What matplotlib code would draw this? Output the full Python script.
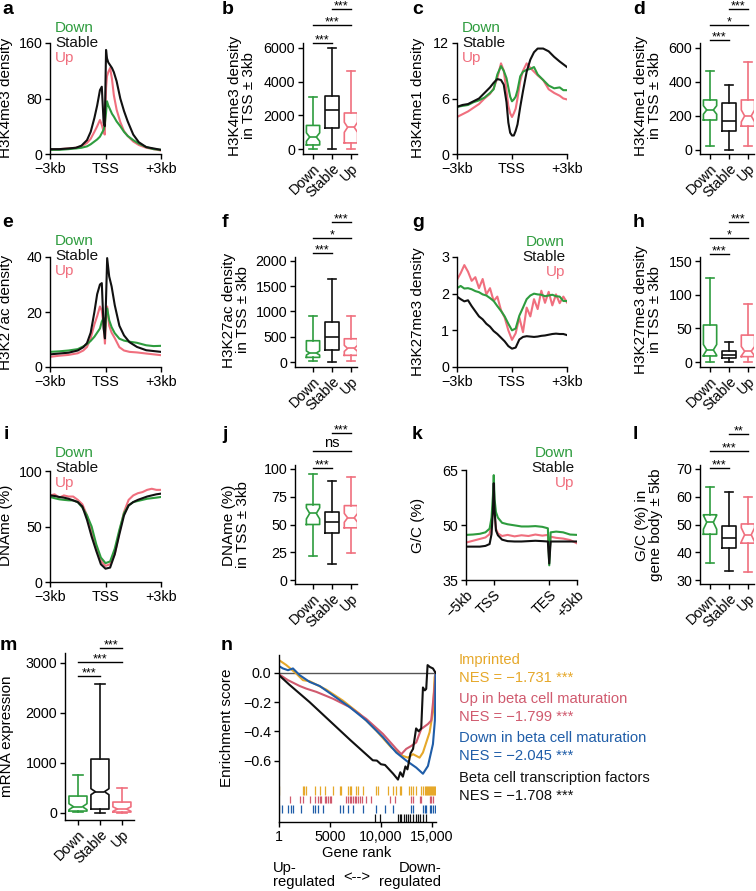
import matplotlib
matplotlib.use('Agg')
import matplotlib.pyplot as plt

plt.rcParams['font.family'] = ['Liberation Sans', 'DejaVu Sans']
plt.rcParams['font.size'] = 10.3
plt.rcParams['axes.linewidth'] = 1.0

GREEN = '#2e9c3e'
PINK = '#f06f7e'
BLACK = '#111111'
COLS = [GREEN, BLACK, PINK]
groups = ['Down', 'Stable', 'Up']

# ---- profile data (kb from TSS) ----
a_x = [-3.0, -2.5, -2.0, -1.6, -1.3, -1.0, -0.8, -0.6, -0.45, -0.3, -0.2, -0.1, -0.04, 0.03,
       0.08, 0.15, 0.25, 0.35, 0.45, 0.6, 0.8, 1.0, 1.2, 1.5, 1.8, 2.2, 2.6, 3.0]
a_down = [6, 6, 7, 8, 9, 11, 14, 18, 21, 25, 30, 35, 42, 60, 76, 70, 64, 58, 54, 47, 40, 32, 26, 20, 15, 10, 7, 6]
a_stable = [7, 7, 8, 9, 12, 20, 32, 52, 70, 92, 97, 45, 40, 150, 138, 132, 128, 124, 118, 105, 80, 62, 47, 28, 17, 10, 8, 6]
a_up = [6, 7, 8, 9, 11, 16, 22, 32, 40, 49, 42, 32, 28, 95, 112, 118, 124, 108, 85, 64, 46, 33, 26, 18, 13, 9, 7, 5]

c_x = [-3.0, -2.7, -2.4, -2.1, -1.8, -1.5, -1.2, -1.0, -0.8, -0.6, -0.45, -0.3, -0.2, -0.1, 0.0,
       0.1, 0.2, 0.3, 0.45, 0.6, 0.8, 1.0, 1.2, 1.4, 1.7, 2.0, 2.3, 2.6, 2.8, 3.0]
c_down = [5.1, 5.2, 5.3, 5.6, 5.8, 6.1, 6.6, 7.0, 8.6, 9.5, 9.0, 8.2, 7.2, 6.2, 5.7,
          5.9, 6.2, 6.9, 8.4, 8.9, 9.1, 9.2, 9.4, 8.6, 8.0, 7.4, 7.1, 7.2, 6.9, 6.9]
c_stable = [5.1, 5.3, 5.4, 5.7, 6.0, 6.6, 7.2, 7.7, 8.1, 8.0, 7.5, 5.6, 3.4, 2.3, 2.0,
            2.0, 2.5, 3.2, 5.1, 6.8, 8.9, 10.2, 11.0, 11.4, 11.4, 11.1, 10.5, 10.0, 9.7, 9.4]
c_up = [4.0, 4.3, 4.6, 5.0, 5.4, 6.0, 6.5, 7.1, 8.2, 9.8, 9.0, 6.8, 5.2, 4.4, 4.0,
        4.4, 4.9, 6.0, 7.9, 9.0, 9.8, 9.3, 8.9, 8.5, 8.0, 7.0, 6.6, 6.3, 6.0, 5.9]

e_x = [-3.0, -2.5, -2.0, -1.5, -1.2, -1.0, -0.8, -0.6, -0.45, -0.3, -0.2, -0.1, -0.03, 0.03,
       0.09, 0.2, 0.33, 0.5, 0.75, 1.0, 1.3, 1.7, 2.2, 2.6, 3.0]
e_down = [5.5, 5.7, 6.0, 6.5, 7.5, 8.3, 9.5, 11.0, 12.5, 14.0, 16.5, 17.8, 12.5, 19.0,
          21.3, 17.0, 14.5, 12.3, 10.3, 9.6, 9.2, 8.8, 7.9, 7.6, 7.7]
e_stable = [4.6, 4.9, 5.2, 6.0, 7.2, 8.7, 12.5, 20.0, 26.5, 30.0, 30.5, 14.0, 10.4, 25.0,
            39.6, 32.9, 29.3, 22.5, 15.0, 11.5, 9.0, 7.3, 6.1, 5.8, 5.5]
e_up = [3.7, 4.1, 4.4, 5.0, 6.0, 7.3, 10.5, 15.5, 18.5, 22.0, 20.5, 15.0, 8.5, 18.0,
        22.0, 15.0, 12.5, 10.5, 7.2, 6.0, 5.5, 5.3, 4.9, 4.6, 4.3]

g_x = [-3.0, -2.8, -2.6, -2.4, -2.2, -2.0, -1.8, -1.6, -1.4, -1.2, -1.0, -0.8, -0.6, -0.4, -0.2, 0.0,
       0.2, 0.4, 0.6, 0.8, 1.0, 1.2, 1.4, 1.6, 1.8, 2.0, 2.2, 2.4, 2.6, 2.8, 3.0]
g_down = [2.15, 2.21, 2.14, 2.15, 2.12, 2.07, 2.04, 1.98, 1.95, 1.88, 1.80, 1.66, 1.53, 1.38, 1.18, 1.00,
          1.05, 1.40, 1.62, 1.85, 1.95, 2.00, 1.98, 1.97, 1.93, 1.95, 1.97, 1.93, 1.92, 1.80, 1.80]
g_stable = [1.92, 1.85, 1.79, 1.82, 1.66, 1.52, 1.38, 1.30, 1.18, 1.10, 0.98, 0.90, 0.80, 0.70, 0.57, 0.50,
            0.53, 0.75, 0.82, 0.84, 0.83, 0.82, 0.83, 0.85, 0.86, 0.88, 0.90, 0.91, 0.90, 0.90, 0.87]
g_up = [2.38, 2.56, 2.78, 2.60, 2.35, 2.45, 2.15, 2.40, 1.98, 2.15, 1.80, 1.92, 1.55, 1.35, 1.00, 0.74,
        0.92, 1.35, 0.95, 1.62, 1.38, 1.85, 1.58, 2.08, 1.75, 2.05, 1.68, 1.98, 1.74, 1.92, 1.76]

i_x = [-3.0, -2.75, -2.5, -2.25, -2.0, -1.75, -1.5, -1.25, -1.0, -0.75, -0.5, -0.25, 0.0,
       0.25, 0.5, 0.75, 1.0, 1.25, 1.5, 1.75, 2.0, 2.25, 2.5, 2.75, 3.0]
i_down = [76.6, 75.5, 74.5, 74, 73.6, 73.5, 72, 67, 60, 50, 34, 22, 17,
          18.5, 30, 47, 62, 69, 72, 73, 74, 75, 75.5, 76, 76.6]
i_stable = [78, 77.5, 76.6, 76, 75, 73.5, 72, 68, 56, 41, 28, 16, 12,
            13, 25, 43, 60, 69, 72, 74, 75.5, 77, 78, 79, 79.6]
i_up = [78, 79, 76, 78, 77, 77, 74, 70, 60, 45, 30, 19, 14.5,
        16, 25, 45, 63, 74, 78, 80, 81, 83, 84, 83, 83]

# k: 0 = -5kb, 1 = TSS, 3 = TES, 4 = +5kb
k_x = [0, 0.25, 0.5, 0.7, 0.85, 0.92, 0.97, 1.0, 1.03, 1.08, 1.15, 1.3, 1.5, 1.75, 2.0,
       2.25, 2.5, 2.75, 2.95, 3.0, 3.05, 3.25, 3.5, 3.75, 4.0]
k_down = [47.3, 47.4, 47.6, 48.0, 49.0, 52.0, 58.0, 63.6, 57.0, 53.5, 52.0, 50.6, 50.2, 49.9, 49.6,
          49.6, 49.7, 49.5, 49.1, 39.0, 48.0, 48.2, 48.0, 47.4, 47.3]
k_stable = [44.1, 44.1, 44.1, 44.3, 44.8, 47.5, 54.0, 61.4, 54.0, 48.5, 47.2, 46.0, 45.6, 45.5, 45.5,
            45.6, 45.7, 45.6, 45.5, 39.5, 45.5, 45.5, 45.5, 45.5, 45.5]
k_up = [45.2, 45.7, 46.2, 46.6, 47.5, 50.5, 55.0, 57.7, 53.0, 49.0, 47.7, 47.0, 47.3, 46.9, 47.2,
        47.0, 47.4, 47.1, 47.3, 41.4, 46.8, 46.5, 46.3, 45.9, 45.0]

# ---- box data: [whisker low, q1, median, q3, whisker high]; notch half-width (0 = none) ----
b_down, b_stable, b_up = [20, 240, 710, 1400, 3070], [0, 1230, 2300, 3170, 6000], [0, 360, 1290, 2140, 4650]
b_ci = [250, 0, 300]
d_down, d_stable, d_up = [24, 176, 235, 294, 466], [0, 110, 172, 274, 381], [24, 140, 200, 294, 515]
d_ci = [25, 0, 35]
f_down, f_stable, f_up = [26, 92, 178, 421, 915], [0, 237, 487, 796, 1645], [26, 132, 270, 460, 901]
f_ci = [40, 0, 60]
h_down, h_stable, h_up = [0, 9, 18, 55, 125], [0, 6, 11, 16, 29], [0, 8, 16, 40, 86]
h_ci = [8, 0, 7]
j_down, j_stable, j_up = [22, 50, 60, 68, 95.5], [14.5, 42, 52, 61, 89], [24, 47, 56, 67, 92.5]
j_ci = [5, 0, 4]
l_down, l_stable, l_up = [36, 46.5, 50.8, 53.5, 63.4], [33.2, 41.4, 45.3, 49.5, 61.7], [33, 43.3, 46.3, 50.2, 59.8]
l_ci = [2.5, 0, 2.5]
m_down, m_stable, m_up = [7, 33, 120, 333, 753], [0, 73, 420, 1073, 2570], [0, 13, 73, 213, 500]
m_ci = [60, 60, 45]

# ---- GSEA data ----
n_rank_imp = [1, 720, 1700, 2350, 3000, 4640, 6270, 7900, 9540, 11010, 12150, 12650, 13140, 13790,
              14120, 14770, 15100, 15260, 15360]
n_es_imp = [0.087, 0.053, -0.005, -0.05, -0.057, -0.115, -0.19, -0.28, -0.395, -0.51, -0.568, -0.58,
            -0.556, -0.58, -0.545, -0.407, -0.27, -0.03, 0.0]
n_rank_upm = [1, 880, 2030, 2680, 3660, 5300, 6930, 8560, 10200, 11500, 12000, 12480, 12970, 13460,
              13950, 14610, 14930, 15260, 15360]
n_es_upm = [-0.01, -0.05, -0.09, -0.108, -0.13, -0.177, -0.234, -0.315, -0.418, -0.52, -0.556, -0.52,
            -0.50, -0.476, -0.384, -0.35, -0.326, -0.097, 0.0]
n_rank_dnm = [1, 390, 880, 1370, 2030, 3000, 3990, 5300, 6930, 8560, 10200, 11500, 12480, 13460,
              14120, 14610, 15100, 15290, 15360]
n_es_dnm = [0.046, 0.03, 0.018, 0.03, -0.016, -0.062, -0.09, -0.154, -0.234, -0.326, -0.44, -0.545,
            -0.60, -0.648, -0.69, -0.637, -0.487, -0.326, 0.0]
n_rank_tf = [1, 1000, 3000, 5000, 7000, 9200, 9600, 10000, 10400, 10800, 11200, 11670, 11900, 12150,
             12400, 12600, 12900, 13150, 13450, 13700, 13950, 14120, 14300, 14440, 14575, 14800, 15100, 15360]
n_es_tf = [-0.016, -0.08, -0.2, -0.33, -0.46, -0.598, -0.6, -0.625, -0.63, -0.66, -0.69, -0.73, -0.68,
           -0.71, -0.64, -0.66, -0.55, -0.52, -0.38, -0.40, -0.38, -0.10, -0.12, -0.11, 0.053, 0.04, 0.03, 0.0]
hits_imp = [1, 2350, 2500, 2680, 3500, 4000, 4480, 5300, 5950, 6110, 6770, 6930, 7100, 7580, 7750, 8240,
            9540, 9700, 10690, 11180, 11500, 11830, 11990, 12800, 12970, 13140, 13460, 13950, 14120,
            14280, 14440, 14500, 14610, 14700, 14770, 14930, 15000, 15100, 15200, 15260]
hits_upm = [1050, 2030, 2350, 3000, 3500, 3820, 3990, 4150, 4480, 4640, 4800, 4970, 5130, 6600, 6770,
            6930, 7100, 7250, 7420, 7580, 7750, 7900, 8100, 8560, 9050, 10850, 11340, 12970, 13140,
            13790, 13950, 14770, 14930, 15100]
hits_dnm = [1, 330, 880, 1210, 1370, 2190, 3330, 3500, 3820, 4310, 5950, 6270, 6770, 7250, 8240, 9540,
            10360, 11180, 12970, 13140, 14120, 14280, 14440, 14770, 14930, 15100, 15260]
hits_tf = [9380, 9870, 11670, 11830, 11990, 12220, 12480, 12650, 12880, 13140, 13400, 13630, 13790,
           14120, 14440]
gsea_names = ['Imprinted', 'Up in beta cell maturation', 'Down in beta cell maturation',
              'Beta cell transcription factors']
gsea_nes = ['−1.731', '−1.799', '−2.045', '−1.708']
gsea_cols = ['#e6a82a', '#d05a6e', '#1f5da8', BLACK]

W, H = 756, 891
fig = plt.figure(figsize=(W / 100, H / 100), dpi=100)


def add_ax(x0, y0, x1, y1):
    ax = fig.add_axes([x0 / W, 1 - y1 / H, (x1 - x0) / W, (y1 - y0) / H])
    ax.spines['top'].set_visible(False)
    ax.spines['right'].set_visible(False)
    ax.tick_params(direction='out', length=3.5, width=1, pad=2, labelsize=10.3)
    return ax


def ftext(x, y, s, **kw):
    fig.text(x / W, 1 - y / H, s, **kw)


def ylab(x, y, s):
    ftext(x, y, s, rotation=90, ha='center', va='center', fontsize=11, linespacing=0.95)


def letter(x, y, s):
    ftext(x, y, s, fontsize=14, fontweight='bold', ha='left', va='baseline')


def legend_text(x, y0, ha='left'):
    for k, (s, c) in enumerate(zip(groups, COLS)):
        ftext(x, y0 + 15 * k, s, color=c, ha=ha, va='center', fontsize=11)


def profile(ax, x, series, ylim, yticks, xticks, xlabels, rot=0):
    for idx in [2, 0, 1]:
        ax.plot(x, series[idx], color=COLS[idx], lw=1.5)
    ax.set_xlim(x[0], x[-1])
    ax.set_ylim(ylim)
    ax.set_yticks(yticks)
    ax.set_xticks(xticks)
    if rot:
        ax.set_xticklabels(xlabels, rotation=rot, ha='right', rotation_mode='anchor')
    else:
        ax.set_xticklabels(xlabels)


def boxes(ax, data, ci, ylim, yticks, xlim, width=0.7):
    for i, (vals, c, n) in enumerate(zip(data, COLS, ci)):
        lo, q1, med, q3, hi = vals
        st = dict(whislo=lo, q1=q1, med=med, q3=q3, whishi=hi, fliers=[])
        if n:
            st['cilo'] = med - n
            st['cihi'] = med + n
        lp = dict(color=c, lw=1.2)
        ax.bxp([st], positions=[i + 1], widths=width, shownotches=bool(n), showfliers=False,
               capwidths=[width * 0.55], boxprops=lp, whiskerprops=lp, capprops=lp,
               medianprops=lp, manage_ticks=False)
    ax.set_xlim(xlim)
    ax.set_ylim(ylim)
    ax.set_yticks(yticks)
    ax.set_xticks([1, 2, 3])
    ax.set_xticklabels(groups, rotation=45, ha='right', rotation_mode='anchor')


def sig(ax, levels, labels):
    tr = ax.get_xaxis_transform()
    for (p, q), y, s in zip([(1, 2), (1, 3), (2, 3)], levels, labels):
        ax.plot([p, q], [y, y], color='k', lw=1, transform=tr, clip_on=False)
        if s == 'ns':
            ax.text((p + q) / 2, y + 0.035, s, transform=tr, ha='center', va='baseline', fontsize=10.5)
        else:
            ax.text((p + q) / 2, y - 0.005, s, transform=tr, ha='center', va='baseline', fontsize=9)


xl3 = ['−3kb', 'TSS', '+3kb']
lim_bd = (0.47, 3.32)
lim_fj = (0.05, 3.32)

# a
ax = add_ax(50, 43, 161, 154)
profile(ax, a_x, [a_down, a_stable, a_up], (0, 160), [0, 80, 160], [-3, 0, 3], xl3)
legend_text(55, 28)
ylab(6, 98, 'H3K4me3 density')
letter(2, 14, 'a')

# b
ax = add_ax(303, 43, 357, 154)
boxes(ax, [b_down, b_stable, b_up], b_ci, (-297, 6297), [0, 2000, 4000, 6000], lim_bd)
sig(ax, [1.003, 1.162, 1.304], ['***', '***', '***'])
ylab(242, 96, 'H3K4me3 density\nin TSS ± 3kb')
letter(222, 14, 'b')

# c
ax = add_ax(457, 43, 567, 154)
profile(ax, c_x, [c_down, c_stable, c_up], (0, 12), [0, 6, 12], [-3, 0, 3], xl3)
legend_text(462, 28)
ylab(418, 98, 'H3K4me1 density')
letter(412, 14, 'c')

# d
ax = add_ax(700, 43, 754, 154)
boxes(ax, [d_down, d_stable, d_up], d_ci, (-24, 629), [0, 200, 400, 600], lim_bd)
sig(ax, [1.027, 1.162, 1.306], ['***', '*', '***'])
ylab(648, 96, 'H3K4me1 density\nin TSS ± 3kb')
letter(633, 14, 'd')

# e
ax = add_ax(50, 257, 161, 367)
profile(ax, e_x, [e_down, e_stable, e_up], (0, 40), [0, 20, 40], [-3, 0, 3], xl3)
legend_text(55, 241)
ylab(6, 312, 'H3K27ac density')
letter(2, 227, 'e')

# f
ax = add_ax(295, 257, 357, 367)
boxes(ax, [f_down, f_stable, f_up], f_ci, (-99, 2079), [0, 500, 1000, 1500, 2000], lim_fj)
sig(ax, [1.036, 1.173, 1.318], ['***', '*', '***'])
ylab(236, 310, 'H3K27ac density\nin TSS ± 3kb')
letter(222, 227, 'f')

# g
ax = add_ax(457, 257, 567, 367)
profile(ax, g_x, [g_down, g_stable, g_up], (0, 3), [0, 1, 2, 3], [-3, 0, 3], xl3)
legend_text(565, 242, ha='right')
ylab(418, 312, 'H3K27me3 density')
letter(412, 227, 'g')

# h
ax = add_ax(700, 257, 754, 367)
boxes(ax, [h_down, h_stable, h_up], h_ci, (-7.4, 156), [0, 50, 100, 150], lim_bd)
sig(ax, [1.027, 1.173, 1.318], ['***', '*', '***'])
ylab(648, 310, 'H3K27me3 density\nin TSS ± 3kb')
letter(633, 227, 'h')

# i
ax = add_ax(50, 471, 161, 582)
profile(ax, i_x, [i_down, i_stable, i_up], (0, 100), [0, 50, 100], [-3, 0, 3], xl3)
legend_text(55, 453)
ylab(6, 525, 'DNAme (%)')
letter(4, 439, 'i')

# j
ax = add_ax(295, 465, 357, 584)
boxes(ax, [j_down, j_stable, j_up], j_ci, (-3.6, 103.6), [0, 25, 50, 75, 100], lim_fj)
sig(ax, [0.975, 1.118, 1.269], ['***', 'ns', '***'])
ylab(236, 525, 'DNAme (%)\nin TSS ± 3kb')
letter(222, 439, 'j')

# k
ax = add_ax(466, 470, 577, 580)
profile(ax, k_x, [k_down, k_stable, k_up], (35, 65), [35, 50, 65], [0, 1, 3, 4],
        ['−5kb', 'TSS', 'TES', '+5kb'], rot=45)
legend_text(574, 453, ha='right')
ylab(418, 525, 'G/C (%)')
letter(412, 439, 'k')

# l
ax = add_ax(700, 465, 754, 584)
boxes(ax, [l_down, l_stable, l_up], l_ci, (28.6, 71.4), [30, 40, 50, 60, 70], lim_bd)
sig(ax, [0.975, 1.118, 1.26], ['***', '***', '**'])
ylab(649, 525, 'G/C (%) in\ngene body ± 5kb')
letter(633, 439, 'l')

# m
ax = add_ax(65, 653, 134, 820)
boxes(ax, [m_down, m_stable, m_up], m_ci, (-146, 3194), [0, 1000, 2000, 3000], (0.41, 3.55), width=0.82)
sig(ax, [0.862, 0.946, 1.03], ['***', '***', '***'])
ylab(7, 736, 'mRNA expression')
letter(0, 650, 'm')

# n
ax = add_ax(279, 655, 436, 822)
ax.axhline(0, color='#555555', lw=1)
for r, e, c in zip([n_rank_imp, n_rank_upm, n_rank_dnm, n_rank_tf],
                   [n_es_imp, n_es_upm, n_es_dnm, n_es_tf], gsea_cols):
    ax.plot(r, e, color=c, lw=1.5)
rug_rows = [(-0.775, -0.832), (-0.844, -0.893), (-0.902, -0.958), (-0.962, -1.02)]
for hits, (y1, y0), c in zip([hits_imp, hits_upm, hits_dnm, hits_tf], rug_rows, gsea_cols):
    ax.vlines(hits, y0, y1, color=c, lw=0.9)
ax.set_xlim(1, 15400)
ax.set_ylim(-1.02, 0.122)
ax.set_yticks([0.0, -0.2, -0.4, -0.6])
ax.set_yticklabels(['0.0', '−0.2', '−0.4', '−0.6'])
ax.set_xticks([1, 5000, 10000, 15000])
ax.set_xticklabels(['1', '5000', '10,000', '15,000'])
ylab(227, 728, 'Enrichment score')
letter(221, 650, 'n')
ftext(357, 853, 'Gene rank', ha='center', va='center', fontsize=10.6)
ftext(273, 875, 'Up-\nregulated', ha='left', va='center', fontsize=10.6, linespacing=0.95)
ftext(357, 877, '<-->', ha='center', va='center', fontsize=10.6)
ftext(441, 875, 'Down-\nregulated', ha='right', va='center', fontsize=10.6, linespacing=0.95)
for k, (name, nes, c) in enumerate(zip(gsea_names, gsea_nes, gsea_cols)):
    y = [660, 699, 738, 778][k]
    ftext(459, y, name, color=c, ha='left', va='center', fontsize=10.6)
    ftext(459, y + 18, 'NES = ' + nes + ' ***', color=c, ha='left', va='center', fontsize=10.6)

fig.savefig('out.png', dpi=100)
